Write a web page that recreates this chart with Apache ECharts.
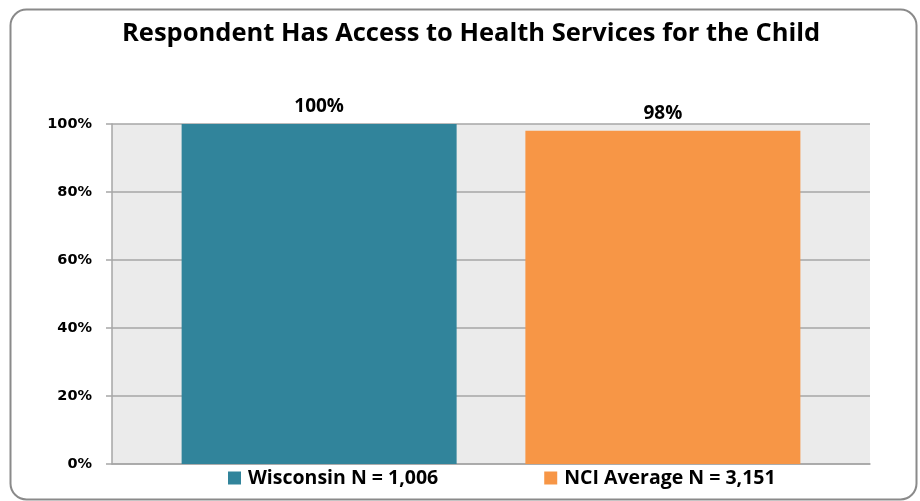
<!DOCTYPE html>
<html>
<head>
<meta charset="utf-8">
<script src="https://cdn.jsdelivr.net/npm/echarts@6/dist/echarts.min.js"></script>
<style>
html,body{margin:0;padding:0;background:#fff;}
#c{width:920px;height:501px;}
</style>
</head>
<body>
<div id="c"></div>
<script>
const titleText = 'Respondent Has Access to Health Services for the Child';
const categories = [''];
const seriesNames = ['Wisconsin N = 1,006', 'NCI Average N = 3,151'];
const wisconsinValues = [100];
const nciValues = [98];
const yTicks = [0, 20, 40, 60, 80, 100];

const chart = echarts.init(document.getElementById('c'), null, {renderer: 'canvas'});
const labelStyle = {
  show: true, position: 'top', distance: 8,
  formatter: p => p.value + '%',
  fontFamily: 'Open Sans', fontWeight: 'bold', fontSize: 19, color: '#000'
};
chart.setOption({
  animation: false,
  backgroundColor: '#fff',
  graphic: [{
    type: 'rect', left: 8, top: 7,
    shape: {width: 906, height: 490, r: 16},
    style: {fill: 'none', stroke: '#8a8a8a', lineWidth: 2},
    z: -10
  }],
  title: {
    text: titleText, left: 117, top: 16,
    textStyle: {fontFamily: 'Open Sans', fontWeight: 'bold', fontSize: 25.5, color: '#000'}
  },
  legend: {
    bottom: 8, left: 223, itemGap: 106,
    itemWidth: 13, itemHeight: 13, icon: 'rect',
    textStyle: {fontFamily: 'Open Sans', fontWeight: 'bold', fontSize: 19.5, color: '#000', padding: [0, 0, 0, 2]},
    data: seriesNames
  },
  grid: {left: 112, right: 50, top: 124, bottom: 37, show: true, backgroundColor: '#EBEBEB', borderWidth: 0},
  xAxis: {
    type: 'category', data: categories,
    axisLine: {show: true, lineStyle: {color: '#A6A6A6', width: 1.5}},
    axisTick: {show: false}, axisLabel: {show: false}
  },
  yAxis: {
    type: 'value', min: yTicks[0], max: yTicks[yTicks.length - 1], interval: 20,
    axisLine: {show: true, lineStyle: {color: '#A6A6A6', width: 1.5}},
    axisTick: {show: true, length: 6, lineStyle: {color: '#A6A6A6', width: 1.5}},
    splitLine: {show: true, lineStyle: {color: '#A6A6A6', width: 1.5}},
    axisLabel: {
      formatter: '{value}%', margin: 20,
      fontFamily: 'DejaVu Sans', fontWeight: 'bold', fontSize: 14.5, color: '#000'
    }
  },
  series: [
    {name: seriesNames[0], type: 'bar', data: wisconsinValues, barWidth: 275, barGap: '25%',
     itemStyle: {color: '#31849B'}, label: labelStyle},
    {name: seriesNames[1], type: 'bar', data: nciValues, barWidth: 275,
     itemStyle: {color: '#F79646'}, label: labelStyle}
  ]
});
</script>
</body>
</html>
